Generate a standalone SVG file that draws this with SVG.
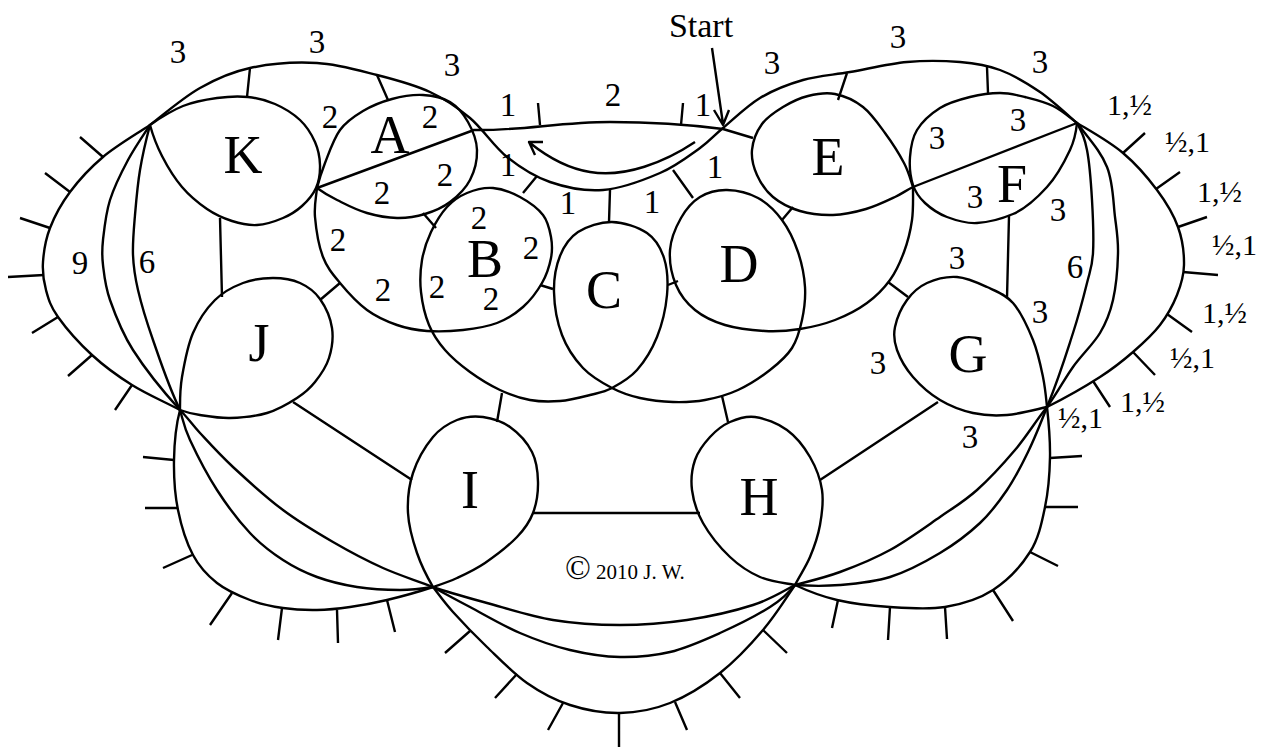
<svg xmlns="http://www.w3.org/2000/svg" width="1262" height="747" viewBox="0 0 1262 747">
<style>
.ln{fill:none;stroke:#000;stroke-width:2.4;stroke-linejoin:round;stroke-linecap:butt}
.t{font-family:"Liberation Serif","Times New Roman",serif;fill:#000}
.lb{font-size:33px;text-anchor:middle}
.big{font-size:54px;text-anchor:middle}
.fr{font-size:30px}
</style>
<rect width="1262" height="747" fill="#fff"/>
<g id="connectors">
<path class="ln" d="M150,125 C158,119 183,97.5 200,88 C216.7,78.5 230.5,72.2 250,68 C269.5,63.8 295.8,61.8 317,63 C338.2,64.2 358.2,70.2 377,75 C395.8,79.8 414.5,84.8 430,92 C445.5,99.2 457.2,107.2 470,118 C482.8,128.8 493.7,146.3 507,157 C520.3,167.7 534,176.5 550,182 C566,187.5 584.7,191.5 603,190 C621.3,188.5 643.8,180 660,173 C676.2,166 689.5,155.5 700,148 C710.5,140.5 713,136.3 723,128 C733,119.7 746.7,106 760,98 C773.3,90 788,84.3 803,80 C818,75.7 832.7,75 850,72 C867.3,69 888.7,63.7 907,62 C925.3,60.3 944.5,60.7 960,62 C975.5,63.3 986.7,65 1000,70 C1013.3,75 1027.2,83.2 1040,92 C1052.8,100.8 1070.8,117.8 1077,123"/>
<path class="ln" d="M317,188 L474,130 C520,131 560,122 610,122 C660,122 700,126 723,129 L753,138"/>
<path class="ln" d="M913,187 L1077,123"/>
<path class="ln" d="M317,188 C316,198 314,205.5 315,217 S318.8,246 323,257 S332.7,274.2 340,283 S357.5,303 367,310 S387,321.5 397,325 S416,330.2 427,331 S451.3,331.3 463,330 S487,326.8 497,323 S515.5,313.7 523,307 S537.3,291.2 542,283 S549.5,265.7 551,258 S552.3,244.2 551,237 S548.2,221.7 543,215 S528.3,201.5 520,197 S501.8,188.7 493,188 S474.7,189.8 467,193 S453,200.5 447,207 S435.2,223.2 431,232 S423.7,250 422,260 S419.8,281.2 421,292 S425,315.3 429,325 S438.2,342.2 445,350 S460.8,365.3 470,372 S490,385.3 500,390 S520,398.2 530,400 S550,401.8 560,401 S581.3,397.2 590,395 S604.2,392.2 612,388 S629.5,378.5 637,370 S652,349.5 657,337 S665.8,308.2 667,295 S667.3,268.3 664,258 S655.7,239 647,233 S623.5,222.2 612,222 S586.7,226.3 578,232 S564,246 560,256 S553.7,278.8 554,292 S557.2,322.3 562,335 S574.7,359.2 583,368 S602.5,383 612,388 S629.8,395.7 640,398 S662.2,401.7 673,402 S694.2,402 705,400 S727.2,395 738,390 S761,377 770,370 S786.7,356.3 792,348 S799.8,330.2 802,320 S805.7,298.3 805,287 S801.8,263.2 798,252 S788.7,229 782,220 S767.2,203 758,198 S736.7,190.2 727,190 S707.7,192.3 700,197 S686,209.2 681,218 S670.8,238.8 670,250 S671.8,275 676,285 S686.8,303.3 695,310 S713.3,321.5 725,325 S752.5,330.3 765,331 S788.3,330.8 800,329 S823.8,324.3 835,320 S857.8,309.7 867,303 S883.8,288.5 890,280 S900.3,262 904,252 S910.5,230.8 912,220 S913,197 913,187"/>
<path class="ln" d="M150,125 C135,135 116.3,145.8 103,157 S78.8,180.2 70,192 S54.5,216.3 50,228 S43.7,251.7 43,262 S43.5,280.8 46,290 S50.3,306.2 58,317 S79.7,343.7 92,355 S117.3,375.8 132,385 S165,402 180,410"/>
<path class="ln" d="M150,125 C142,137 134.7,147.5 128,160 S114.2,186.7 110,200 S104.2,229.2 103,240 S101.8,255 103,265 S105,285.8 110,300 S121.3,331.7 133,350 S160,388 180,410"/>
<path class="ln" d="M150,125 C146,140 142.5,155 140,170 S136.2,200.8 135,215 S132.5,242.5 133,255 S134.7,275.8 138,290 S146,320 153,340 S168,385 180,410"/>
<path class="ln" d="M1077,123 C1092,132 1109.7,141.8 1123,153 S1147.8,177.7 1157,190 S1173.5,214.5 1178,227 S1184.2,253.7 1184,265 S1181,285 1177,295 S1167.3,315.5 1160,325 S1143,343.3 1133,352 S1114.3,367.8 1100,377 S1065,398 1047,407"/>
<path class="ln" d="M1077,123 C1090,140 1100.7,151.3 1107,167 S1113.2,202.7 1115,217 S1118.3,239.2 1118,253 S1116,286.7 1113,300 S1106.7,321.8 1100,333 S1081.8,354.7 1073,367 S1058,392 1047,407"/>
<path class="ln" d="M1077,123 C1082,133 1084.5,137.2 1087,150 S1091,182.8 1092,200 S1093.8,239.2 1093,253 S1090.3,269.7 1087,283 S1079.7,312.3 1073,333 S1060,375 1047,407"/>
<path class="ln" d="M180,410 C176,425 174.3,443.3 174,460 S174.8,494.2 178,510 S186.5,542.8 193,555 S207.5,575.5 217,583 S239,595.8 250,600 S271.8,606.3 283,608 S305.8,610.2 317,610 S338.3,608.7 350,607 S373.2,603.3 387,600 S415,593 433,587"/>
<path class="ln" d="M180,410 C183,420 183.8,426.7 190,440 S207,474.5 217,490 S239,521.3 250,533 S271.8,552.7 283,560 S304.7,572.5 317,577 S343.2,584.8 357,587 S387.3,590 400,590 S420,589 433,587"/>
<path class="ln" d="M180,410 C188,418 191.2,423.5 200,433 S219.2,454.2 233,467 S266.3,497.5 283,510 S316.3,532.3 333,542 S366.3,560.5 383,568 S415,580 433,587"/>
<path class="ln" d="M433,587 C450,593 467,597.5 487,603 S530.8,616.3 553,620 S597.7,625 620,625 S664.8,623.3 687,620 S735,610.8 753,605 S780,593 795,585"/>
<path class="ln" d="M433,587 C445,594 455.5,599.3 470,607 S503.3,625.8 520,633 S553.3,646 570,650 S603.3,656.7 620,657 S653.3,656 670,652 S703.3,640.5 720,633 S757.5,615 770,607 S787,594 795,585"/>
<path class="ln" d="M433,587 C440,596 444,602 453,612 S474.7,635.2 487,647 S513.2,673.3 527,683 S554.5,700 570,705 S603.3,713.3 620,713 S653.3,709.7 670,703 S704.5,685.2 720,673 S750.5,644.7 763,630 S785,600 795,585"/>
<path class="ln" d="M795,585 C810,592 821.2,596.3 837,600 S872,605.8 890,607 S927.8,609.8 945,607 S978.8,599.2 993,590 S1021.3,565.8 1030,552 S1041.7,522.8 1045,507 S1049.7,473.7 1050,457 S1049,425 1047,407"/>
<path class="ln" d="M795,585 C810,586 824.2,586.3 840,585 S873.3,582.3 890,577 S925,562 940,553 S968.8,533.5 980,523 S999,501.8 1007,490 S1021.3,465.8 1028,452 S1040,425 1047,407"/>
<path class="ln" d="M795,585 C810,581 824.2,577.8 840,572 S873.3,559.2 890,550 S925.5,527 940,517 S964.5,501.2 977,490 S1003.3,463.8 1015,450 S1035,422 1047,407"/>
<path class="ln" d="M250,68 L247,97 M377,75 L388,100 M847,73 L838,100 M987,67 L988,93 M540,125 L538,103 M681,125 L683,103 M537,176 L523,193 M610,190 L609,222 M673,170 L693,198 M423,213 L436,228 M782,220 L793,207 M540,285 L553,289 M668,285 L678,281 M220,218 L222,297 M320,300 L340,283 M293,402 L412,480 M533,513 L700,513 M502,393 L497,422 M722,396 L728,422 M888,282 L908,297 M1009,216 L1007,298 M938,402 L820,480"/>
<path class="ln" d="M103,157 L80,137 M70,192 L45,173 M50,228 L20,218 M44,275 L8,277 M58,317 L32,333 M92,355 L68,376 M132,385 L115,410 M174,460 L143,457 M178,508 L145,508 M192,555 L163,568 M232,593 L210,625 M282,608 L278,640 M337,610 L338,643 M387,600 L395,632 M470,631 L445,653 M517,674 L495,698 M563,703 L548,730 M619,713 L619,747 M675,702 L687,730 M720,673 L740,698 M763,630 L787,653 M838,600 L832,628 M890,607 L888,640 M945,607 L947,639 M993,590 L1013,621 M1030,552 L1058,566 M1045,507 L1078,507 M1050,458 L1082,456 M1123,153 L1145,133 M1156,189 L1180,172 M1178,227 L1207,217 M1183,272 L1218,275 M1167,314 L1192,332 M1133,352 L1155,375 M1093,381 L1110,407"/>
<path class="ln" d="M712,48 L723,124 M714,110 L723,125 L729,110"/>
<path class="ln" d="M695,142 C665,162 625,178 590,172 C565,168 545,155 530,143 M543,142 L529,142 L535,155"/>
</g>
<g id="node-K"><path class="ln" d="M150,125 C160,118 171.8,110.5 183,106 S206.2,99.5 217,98 S238.3,96 248,97 S266.3,100.2 275,104 S293.3,113.7 300,120 S311.7,134.5 315,142 S319.8,157.3 320,165 S319,181.2 316,188 S307.5,201 302,206 S290.5,214.8 283,218 S265.5,224.5 257,225 S240.3,223.7 232,221 S215.3,214.7 207,209 S189.5,195.8 182,187 S167.3,166.3 162,156 S153,136 150,125 Z"/><text class="t big" x="243" y="173">K</text></g>
<g id="node-A"><path class="ln" d="M317,188 C320,176 321.2,172.7 325,163 S333.7,138.7 340,130 S354.3,116.2 363,111 S382,101.7 392,99 S413.3,94.5 423,95 S442.5,97.5 450,102 S463.5,114 468,122 S476.7,140.3 477,150 S474.5,171.3 470,180 S457.5,196.3 450,202 S433.8,211.3 425,214 S406.7,218.2 397,218 S376.3,215.7 367,213 S349.3,206.2 341,202 S328,196 317,188 Z"/><text class="t big" x="390" y="153">A</text></g>
<g id="node-B"><text class="t big" x="485" y="277">B</text></g>
<g id="node-C"><text class="t big" x="604" y="308">C</text></g>
<g id="node-D"><text class="t big" x="739" y="282">D</text></g>
<g id="node-E"><path class="ln" d="M913,187 C910,178 908.7,172 904,163 S891.8,142.3 885,133 S871.3,113.5 863,107 S844.2,95.8 835,94 S816.7,93.8 808,96 S790.7,102.3 783,107 S767.2,116.8 762,124 S752.8,141.5 752,150 S753.5,167.2 757,175 S765.8,191 773,197 S790,208 800,211 S822,215.3 833,215 S855.7,212 866,209 S887.2,200.7 895,197 S905,191 913,187 Z"/><text class="t big" x="828" y="175">E</text></g>
<g id="node-F"><path class="ln" d="M1077,123 C1068,116 1061.7,110.3 1053,106 S1033.8,99.2 1025,97 S1009.2,93 1000,93 S980,94.5 970,97 S948.7,102.5 940,108 S922,121.8 917,130 S910.7,147.8 910,157 S910.5,177.3 913,185 S919.3,197.7 925,203 S938.3,213.7 947,217 S966,223.7 977,223 S1001.3,219 1013,214 S1037.5,197.5 1047,187 S1065,160.7 1070,150 S1076,133 1077,123 Z"/><text class="t big" x="1012" y="202">F</text></g>
<g id="node-G"><path class="ln" d="M1047,407 C1046,397 1045.3,388.2 1043,377 S1038,352.3 1033,340 S1020.7,311.8 1013,303 S996.3,291.3 987,287 S967,277.7 957,277 S935.3,279.2 927,283 S912.3,292.7 907,300 S896.7,318.7 895,327 S894,341.7 897,350 S905.8,368.7 913,377 S930,394 940,400 S961.8,410.5 973,413 S994.7,416 1007,415 S1030,411 1047,407 Z"/><text class="t big" x="968" y="372">G</text></g>
<g id="node-H"><path class="ln" d="M795,585 C785,583 770.8,581.7 760,577 S739.5,566 730,557 S709.3,534.2 703,523 S693.3,500.5 692,490 S692,468.8 695,460 S704.2,443.3 710,437 S722.5,425.3 730,422 S745.5,415.7 755,417 S777.8,423.3 787,430 S804.2,447 810,457 S820.3,478.7 822,490 S822,513.8 820,525 S814.2,547 810,557 S800,575 795,585 Z"/><text class="t big" x="759" y="515">H</text></g>
<g id="node-I"><path class="ln" d="M433,587 C426,575 421.2,565.3 417,553 S408.7,526.3 408,513 S408.8,485.7 413,473 S425.7,445.8 433,437 S448.7,423.3 457,420 S474.2,415.8 483,417 S501.8,421.2 510,427 S527.3,442.8 532,452 S537.8,471.8 538,482 S536.5,503.8 533,513 S525,528.7 517,537 S495,556.2 485,563 S465.7,574 457,578 S442,584 433,587 Z"/><text class="t big" x="470" y="508">I</text></g>
<g id="node-J"><path class="ln" d="M180,410 C180,400 179.8,389.8 182,377 S187.5,345.8 193,333 S206.7,308.3 215,300 S233.3,286.7 243,283 S263.5,278 273,278 S292.2,279.5 300,283 S314.7,291.5 320,299 S330.5,318.2 332,328 S331.8,349 329,358 S320.3,375.3 315,382 S305,392.8 297,398 S278.2,409.7 267,413 S241.2,417.7 230,418 S208.3,416.3 200,415 S188,413 180,410 Z"/><text class="t big" x="259" y="361">J</text></g>
<g id="labels" class="t">
<text class="lb" x="178" y="63">3</text><text class="lb" x="317" y="53">3</text><text class="lb" x="452" y="76">3</text>
<text class="lb" x="772" y="74">3</text><text class="lb" x="898" y="48">3</text><text class="lb" x="1040" y="73">3</text>
<text class="lb" x="508" y="116">1</text><text class="lb" x="613" y="106">2</text><text class="lb" x="703" y="116">1</text>
<text class="lb" x="330" y="128">2</text><text class="lb" x="430" y="128">2</text><text class="lb" x="382" y="204">2</text><text class="lb" x="445" y="186">2</text>
<text class="lb" x="338" y="251">2</text><text class="lb" x="383" y="301">2</text>
<text class="lb" x="479" y="229">2</text><text class="lb" x="531" y="259">2</text><text class="lb" x="437" y="298">2</text><text class="lb" x="491" y="310">2</text>
<text class="lb" x="508" y="176">1</text><text class="lb" x="568" y="214">1</text><text class="lb" x="652" y="213">1</text><text class="lb" x="715" y="178">1</text>
<text class="lb" x="937" y="149">3</text><text class="lb" x="1018" y="131">3</text><text class="lb" x="975" y="208">3</text><text class="lb" x="1058" y="221">3</text>
<text class="lb" x="957" y="269">3</text><text class="lb" x="1040" y="323">3</text><text class="lb" x="878" y="374">3</text><text class="lb" x="970" y="448">3</text>
<text class="lb" x="80" y="274">9</text><text class="lb" x="147" y="273">6</text><text class="lb" x="1075" y="278">6</text>
<text class="fr" x="1107" y="115">1,½</text><text class="fr" x="1165" y="152">½,1</text>
<text class="fr" x="1197" y="202">1,½</text><text class="fr" x="1212" y="255">½,1</text>
<text class="fr" x="1202" y="323">1,½</text><text class="fr" x="1170" y="368">½,1</text>
<text class="fr" x="1120" y="412">1,½</text><text class="fr" x="1058" y="428">½,1</text>
<text x="701" y="37" font-size="34" text-anchor="middle">Start</text>
<text x="565" y="579" font-size="21"><tspan font-size="34">©</tspan> 2010 J. W.</text>
</g>
</svg>
